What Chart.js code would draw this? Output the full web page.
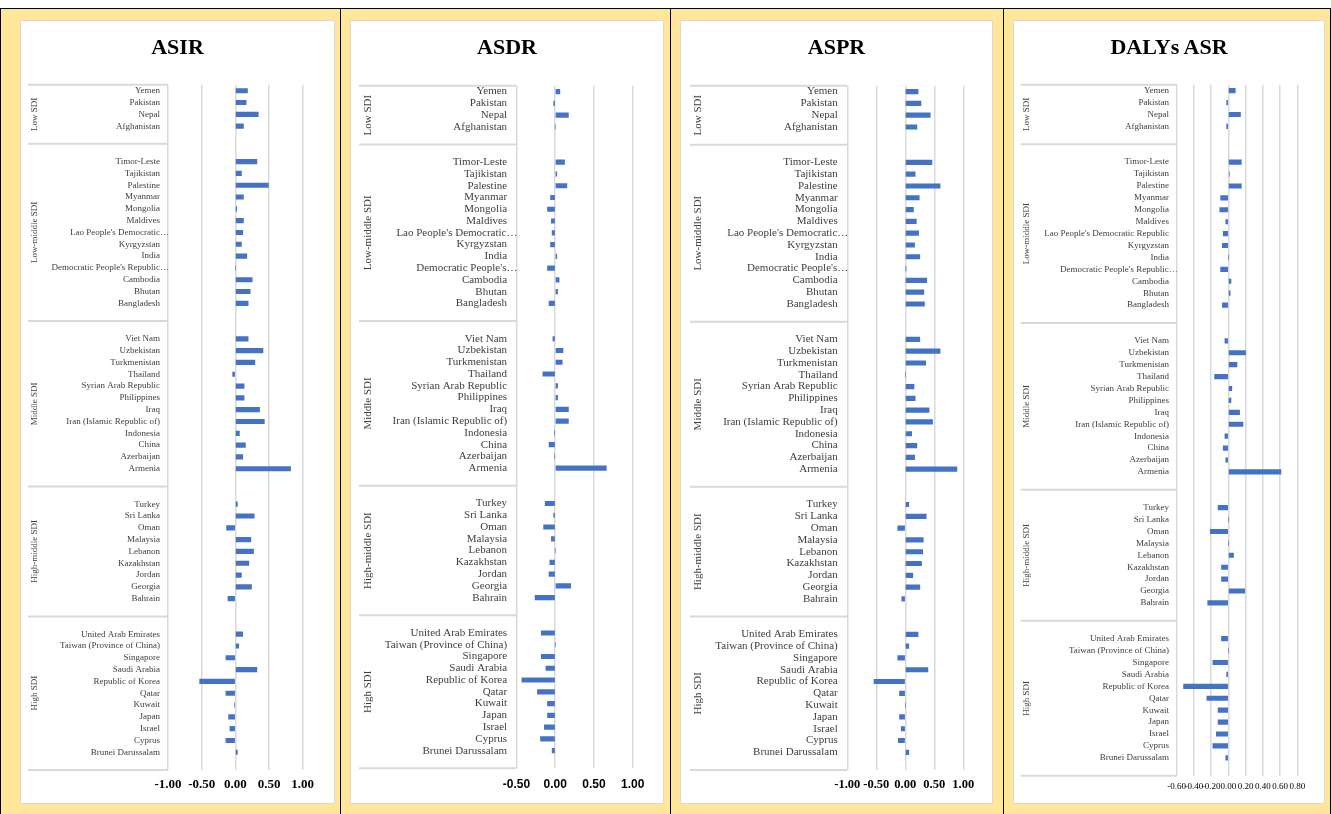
<!DOCTYPE html>
<html>
<head>
<meta charset="utf-8">
<script src="https://cdn.jsdelivr.net/npm/chart.js@4.4.1/dist/chart.umd.min.js"></script>
<style>
  html, body { margin: 0; padding: 0; background: #fff; }
  body { width: 1331px; height: 814px; position: relative; overflow: hidden; }
  #frame { position: absolute; left: 0; top: 8px; width: 1331px; height: 806px; background: #FFE699;
           box-sizing: border-box; border: 1px solid #000; border-bottom: none; }
  .sep { position: absolute; top: 8px; width: 1px; height: 806px; background: #000; }
  .card { position: absolute; background: #fff; border: 1px solid #d9d9d9; box-sizing: border-box; }
  .card h2 { position: absolute; left: 0; right: 0; top: 13px; margin: 0; text-align: center;
             font: bold 22px/26px 'Liberation Serif', 'Times New Roman', serif; color: #000; }
  .card canvas { position: absolute; left: 0; top: 0; }
</style>
</head>
<body>
<div id="frame"></div>
<div class="sep" style="left:340px"></div>
<div class="sep" style="left:670px"></div>
<div class="sep" style="left:1003px"></div>
<div id="panels"></div>
<script>
// SDI groups and the countries in each, top to bottom
const sdiGroups = ['Low SDI', 'Low-middle SDI', 'Middle SDI', 'High-middle SDI', 'High SDI'];
const lowSdi = ['Yemen', 'Pakistan', 'Nepal', 'Afghanistan'];
const lowMiddleSdi = ['Timor-Leste', 'Tajikistan', 'Palestine', 'Myanmar', 'Mongolia', 'Maldives',
  "Lao People's Democratic Republic", 'Kyrgyzstan', 'India', "Democratic People's Republic of Korea",
  'Cambodia', 'Bhutan', 'Bangladesh'];
const middleSdi = ['Viet Nam', 'Uzbekistan', 'Turkmenistan', 'Thailand', 'Syrian Arab Republic',
  'Philippines', 'Iraq', 'Iran (Islamic Republic of)', 'Indonesia', 'China', 'Azerbaijan', 'Armenia'];
const highMiddleSdi = ['Turkey', 'Sri Lanka', 'Oman', 'Malaysia', 'Lebanon', 'Kazakhstan', 'Jordan',
  'Georgia', 'Bahrain'];
const highSdi = ['United Arab Emirates', 'Taiwan (Province of China)', 'Singapore', 'Saudi Arabia',
  'Republic of Korea', 'Qatar', 'Kuwait', 'Japan', 'Israel', 'Cyprus', 'Brunei Darussalam'];

// Shortened axis labels used by each panel
const shortLabelsNarrow = {
  "Lao People's Democratic Republic": "Lao People's Democratic…",
  "Democratic People's Republic of Korea": "Democratic People's Republic…"
};
const shortLabelsWide = {
  "Lao People's Democratic Republic": "Lao People's Democratic…",
  "Democratic People's Republic of Korea": "Democratic People's…"
};
const shortLabelsDalys = {
  "Democratic People's Republic of Korea": "Democratic People's Republic…"
};

// Values per country, in the order of the lists above
const asir = [0.18, 0.16, 0.34, 0.12,
  0.32, 0.09, 0.49, 0.12, 0.02, 0.12, 0.11, 0.09, 0.17, 0.00, 0.25, 0.22, 0.19,
  0.19, 0.41, 0.29, -0.04, 0.13, 0.13, 0.36, 0.43, 0.06, 0.15, 0.11, 0.82,
  0.03, 0.28, -0.13, 0.23, 0.27, 0.20, 0.09, 0.24, -0.11,
  0.11, 0.05, -0.14, 0.32, -0.53, -0.14, -0.01, -0.10, -0.08, -0.14, 0.03];
const asdr = [0.06, -0.02, 0.17, 0.00,
  0.12, 0.02, 0.15, -0.06, -0.10, -0.05, -0.04, -0.06, 0.02, -0.10, 0.05, 0.03, -0.08,
  -0.03, 0.10, 0.09, -0.16, 0.03, 0.03, 0.17, 0.17, -0.01, -0.08, -0.01, 0.66,
  -0.13, -0.02, -0.15, -0.05, 0.00, -0.07, -0.08, 0.20, -0.26,
  -0.18, 0.00, -0.18, -0.12, -0.43, -0.23, -0.10, -0.10, -0.14, -0.19, -0.04];
const aspr = [0.22, 0.27, 0.43, 0.20,
  0.46, 0.17, 0.60, 0.24, 0.14, 0.19, 0.23, 0.16, 0.25, 0.01, 0.37, 0.32, 0.33,
  0.25, 0.60, 0.35, 0.00, 0.15, 0.17, 0.41, 0.47, 0.11, 0.20, 0.16, 0.89,
  0.06, 0.36, -0.13, 0.31, 0.30, 0.28, 0.13, 0.25, -0.06,
  0.22, 0.06, -0.13, 0.39, -0.54, -0.10, 0.00, -0.10, -0.07, -0.12, 0.06];
const dalysAsr = [0.08, -0.02, 0.14, -0.02,
  0.15, 0.01, 0.15, -0.09, -0.10, -0.03, -0.06, -0.07, 0.00, -0.09, 0.03, 0.02, -0.07,
  -0.04, 0.20, 0.10, -0.16, 0.04, 0.03, 0.13, 0.17, -0.04, -0.06, -0.03, 0.61,
  -0.12, 0.00, -0.21, 0.00, 0.06, -0.08, -0.08, 0.19, -0.24,
  -0.08, 0.00, -0.18, -0.02, -0.52, -0.25, -0.12, -0.12, -0.14, -0.18, -0.03];

// Build the category rows: blank spacer rows separate the SDI groups
const groupMembers = [lowSdi, lowMiddleSdi, middleSdi, highMiddleSdi, highSdi];
const rowCountries = [];
const groupSpans = [];
groupMembers.forEach((members, g) => {
  const start = rowCountries.length;
  if (g > 0) rowCountries.push(null);
  members.forEach(c => rowCountries.push(c));
  rowCountries.push(null);
  groupSpans.push({ name: sdiGroups[g], start, end: rowCountries.length });
});
const allCountries = groupMembers.flat();

function rowValues(values) {
  const byCountry = {};
  allCountries.forEach((c, i) => { byCountry[c] = values[i]; });
  return rowCountries.map(c => (c === null ? null : byCountry[c]));
}
function rowLabels(shortMap) {
  return rowCountries.map(c => (c === null ? '' : (shortMap[c] || c)));
}

// Draws the country labels, the SDI group brackets and rotated group names
const sdiAxisPlugin = {
  id: 'sdiAxis',
  afterDraw(chart, args, opts) {
    const { ctx, chartArea: a } = chart;
    const y = chart.scales.y;
    ctx.save();
    ctx.fillStyle = '#404040';
    ctx.font = opts.labelSize + "px 'Liberation Serif', 'Times New Roman', serif";
    ctx.textBaseline = 'middle';
    ctx.textAlign = 'right';
    chart.data.labels.forEach((t, i) => {
      if (!t) return;
      const py = y.getPixelForValue(i);
      const cut = t.endsWith('…');
      ctx.fillText(t, a.left + (cut ? 1 : -opts.labelGap), py);
    });
    ctx.strokeStyle = '#d9d9d9';
    ctx.lineWidth = 2;
    const edges = new Set();
    groupSpans.forEach(s => { edges.add(s.start); edges.add(s.end); });
    edges.forEach(b => {
      const py = y.getPixelForValue(b - 0.5);
      ctx.beginPath();
      ctx.moveTo(opts.lineX, py);
      ctx.lineTo(a.left, py);
      ctx.stroke();
    });
    groupSpans.forEach(s => {
      const top = y.getPixelForValue(s.start - 0.5);
      const bottom = y.getPixelForValue(s.end - 0.5);
      ctx.save();
      ctx.translate(opts.groupX, (top + bottom) / 2);
      ctx.rotate(-Math.PI / 2);
      ctx.textAlign = 'center';
      ctx.fillText(s.name, 0, 0);
      ctx.restore();
    });
    ctx.restore();
  }
};

const panels = [
  { title: 'ASIR', values: asir, labels: shortLabelsNarrow, min: -1, max: 1, step: 0.5,
    card: [20, 20, 315, 784], area: [168, 84.8, 302.7, 770], groupX: 35, lineX: 28,
    labelSize: 9, labelGap: 8,
    tick: { family: "'Liberation Serif', 'Times New Roman', serif", size: 13, weight: 'bold' }, tickY: 785 },
  { title: 'ASDR', values: asdr, labels: shortLabelsWide, min: -0.5, max: 1, step: 0.5,
    card: [350, 20, 314, 784], area: [516.5, 85.7, 632.7, 768.3], groupX: 367.7, lineX: 359,
    labelSize: 11, labelGap: 9.4,
    tick: { family: "'Liberation Sans', Arial, sans-serif", size: 12, weight: 'bold' }, tickY: 784.3 },
  { title: 'ASPR', values: aspr, labels: shortLabelsWide, min: -1, max: 1, step: 0.5,
    card: [680, 20, 313, 784], area: [847.3, 85.7, 963.3, 770], groupX: 698, lineX: 690,
    labelSize: 11, labelGap: 9.6,
    tick: { family: "'Liberation Serif', 'Times New Roman', serif", size: 12.5, weight: 'bold' }, tickY: 785 },
  { title: 'DALYs ASR', values: dalysAsr, labels: shortLabelsDalys, min: -0.6, max: 0.8, step: 0.2,
    card: [1013, 20, 312, 784], area: [1176.7, 84.7, 1297.3, 775.7], groupX: 1027, lineX: 1020.7,
    labelSize: 9, labelGap: 7.7,
    tick: { family: "'Liberation Serif', 'Times New Roman', serif", size: 9, weight: 'normal' }, tickY: 786.7 }
];

const host = document.getElementById('panels');
const AXIS_H = 30;
panels.forEach(p => {
  const [cx, cy, cw, ch] = p.card;
  const card = document.createElement('div');
  card.className = 'card';
  card.style.cssText = `left:${cx}px;top:${cy}px;width:${cw}px;height:${ch}px;`;
  const canvas = document.createElement('canvas');
  const w = cw - 2, h = ch - 2;
  canvas.width = w; canvas.height = h;
  canvas.style.width = w + 'px'; canvas.style.height = h + 'px';
  card.appendChild(canvas);
  const title = document.createElement('h2');
  title.textContent = p.title;
  card.appendChild(title);
  host.appendChild(card);

  const ox = cx + 1, oy = cy + 1;
  const [L, T, R, B] = p.area;
  const pad = { left: L - ox, top: T - oy, right: ox + w - R, bottom: oy + h - B - AXIS_H };
  const tickPad = p.tickY - B - p.tick.size * 1.2 / 2;

  new Chart(canvas, {
    type: 'bar',
    data: {
      labels: rowLabels(p.labels),
      datasets: [{
        data: rowValues(p.values),
        backgroundColor: '#4472C4',
        borderWidth: 0,
        barThickness: 4.5
      }]
    },
    options: {
      indexAxis: 'y',
      responsive: false,
      animation: false,
      devicePixelRatio: 1,
      layout: { padding: pad },
      plugins: {
        legend: { display: false },
        tooltip: { enabled: false },
        sdiAxis: { labelSize: p.labelSize, labelGap: p.labelGap, groupX: p.groupX - ox, lineX: p.lineX - ox }
      },
      scales: {
        x: {
          type: 'linear', position: 'bottom', min: p.min, max: p.max,
          ticks: {
            stepSize: p.step, autoSkip: false, maxRotation: 0, padding: tickPad,
            color: '#000', font: p.tick,
            callback: v => (Math.abs(v) < 1e-9 ? 0 : v).toFixed(2)
          },
          grid: { color: '#d9d9d9', lineWidth: 1.5, drawTicks: false },
          border: { display: false },
          afterFit: s => { s.height = AXIS_H; }
        },
        y: { type: 'category', display: false, offset: true, grid: { display: false } }
      }
    },
    plugins: [sdiAxisPlugin]
  });
});
</script>
</body>
</html>
